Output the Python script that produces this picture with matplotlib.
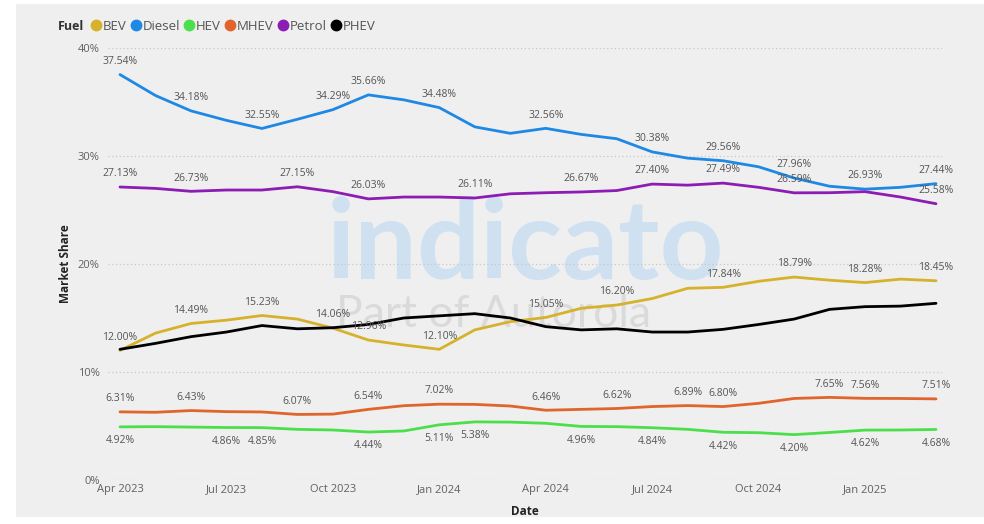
import matplotlib
matplotlib.use("Agg")
import matplotlib.pyplot as plt
from matplotlib.lines import Line2D
from matplotlib.patches import Rectangle

months = ["Apr 2023", "May 2023", "Jun 2023", "Jul 2023", "Aug 2023", "Sep 2023",
          "Oct 2023", "Nov 2023", "Dec 2023", "Jan 2024", "Feb 2024", "Mar 2024",
          "Apr 2024", "May 2024", "Jun 2024", "Jul 2024", "Aug 2024", "Sep 2024",
          "Oct 2024", "Nov 2024", "Dec 2024", "Jan 2025", "Feb 2025", "Mar 2025"]
tick_labels = ["Apr 2023", "Jul 2023", "Oct 2023", "Jan 2024",
               "Apr 2024", "Jul 2024", "Oct 2024", "Jan 2025"]

bev = [12.00, 13.6, 14.49, 14.8, 15.23, 14.9, 14.06, 12.96, 12.5, 12.10, 13.9, 14.66,
       15.05, 15.9, 16.20, 16.8, 17.75, 17.84, 18.4, 18.79, 18.5, 18.28, 18.6, 18.45]
diesel = [37.54, 35.6, 34.18, 33.3, 32.55, 33.4, 34.29, 35.66, 35.2, 34.48, 32.7, 32.1,
          32.56, 32.0, 31.6, 30.38, 29.8, 29.56, 29.0, 27.96, 27.2, 26.93, 27.1, 27.44]
hev = [4.92, 4.94, 4.90, 4.86, 4.85, 4.69, 4.63, 4.44, 4.54, 5.11, 5.38, 5.36,
       5.25, 4.96, 4.94, 4.84, 4.69, 4.42, 4.38, 4.20, 4.40, 4.62, 4.63, 4.68]
mhev = [6.31, 6.27, 6.43, 6.33, 6.30, 6.07, 6.10, 6.54, 6.88, 7.02, 7.00, 6.85,
        6.46, 6.54, 6.62, 6.80, 6.89, 6.80, 7.10, 7.55, 7.65, 7.56, 7.55, 7.51]
petrol = [27.13, 27.0, 26.73, 26.85, 26.85, 27.15, 26.7, 26.03, 26.2, 26.2, 26.11, 26.5,
          26.6, 26.67, 26.8, 27.40, 27.3, 27.49, 27.1, 26.59, 26.6, 26.7, 26.2, 25.58]
phev = [12.1, 12.65, 13.27, 13.7, 14.3, 14.0, 14.1, 14.4, 15.0, 15.2, 15.4, 15.0,
        14.2, 13.9, 14.0, 13.7, 13.7, 13.95, 14.4, 14.9, 15.8, 16.05, 16.1, 16.36]

# indices of points carrying data labels
bev_lab = [0, 2, 4, 6, 7, 9, 12, 14, 17, 19, 21, 23]
diesel_lab = [0, 2, 4, 6, 7, 9, 12, 15, 17, 19, 21, 23]
hev_lab = [0, 3, 4, 7, 9, 10, 13, 15, 17, 19, 21, 23]
mhev_lab = [0, 2, 5, 7, 9, 12, 14, 16, 17, 20, 21, 23]
petrol_lab = [0, 2, 5, 7, 10, 13, 15, 17, 19, 23]

series = [("BEV", bev, "#d6b22c", bev_lab, "above"),
          ("Diesel", diesel, "#1e88e5", diesel_lab, "above"),
          ("HEV", hev, "#4be04b", hev_lab, "below"),
          ("MHEV", mhev, "#e0642c", mhev_lab, "above"),
          ("Petrol", petrol, "#8c1cb4", petrol_lab, "above"),
          ("PHEV", phev, "#000000", [], "above")]

FONT = "Open Sans"
W, H = 984, 524
fig = plt.figure(figsize=(W / 100, H / 100), dpi=100)
fig.patch.set_facecolor("white")
fig.patches.append(Rectangle((16 / W, 1 - 517 / H), 1 - 16 / W, (517 - 4) / H,
                             transform=fig.transFigure, facecolor="#efefef",
                             edgecolor="none", zorder=-10))

ax = fig.add_axes([108 / W, 1 - 480 / H, (942 - 108) / W, (480 - 48) / H])
ax.set_facecolor("none")
x = list(range(len(months)))
px = (936 - 120) / 23
ax.set_xlim(-12 / px, 23 + 6 / px)
ax.set_ylim(0, 40)

# watermark
ax.text(0.50, 0.54, "indicato", transform=ax.transAxes, fontsize=80,
        fontfamily="Lato", fontweight="bold", color="#cfe0f1", ha="center",
        va="center", zorder=0)
ax.text(0.462, 0.382, "Part of Autorola", transform=ax.transAxes, fontsize=32,
        fontfamily="Lato", color="#dadada", ha="center", va="center", zorder=0)

for name, vals, col, labs, pos in series:
    ax.plot(x, vals, color=col, lw=2.0, solid_capstyle="round", zorder=3)
    for i in labs:
        dy = 9.5 if pos == "above" else -10
        ax.annotate(f"{vals[i]:.2f}%", (x[i], vals[i]), xytext=(0, dy),
                    textcoords="offset points", ha="center", va="center",
                    fontsize=7.5, fontfamily=FONT, color="#555555", zorder=5)

ax.set_yticks([0, 10, 20, 30, 40])
ax.set_yticklabels(["0%", "10%", "20%", "30%", "40%"])
ax.set_xticks([0, 3, 6, 9, 12, 15, 18, 21])
ax.set_xticklabels(tick_labels)
ax.tick_params(length=0, labelsize=8, labelcolor="#606060", pad=3)
ax.tick_params(axis="y", pad=6)
for lab in ax.get_xticklabels() + ax.get_yticklabels():
    lab.set_fontfamily(FONT)
ax.grid(axis="y", color="#c8c8c8", linestyle=(0, (1, 2)), lw=0.9)
ax.set_axisbelow(True)
for s in ax.spines.values():
    s.set_visible(False)

ax.set_xlabel("Date", fontsize=8.5, fontfamily=FONT, fontweight="bold",
              color="#222222", labelpad=7)
ax.set_ylabel("Market Share", fontsize=8.5, fontfamily=FONT, fontweight="bold",
              color="#222222", labelpad=4)

fig.text(58 / W, 1 - 26 / H, "Fuel", fontsize=9, fontfamily=FONT,
         fontweight="bold", color="#333333", va="center", ha="left")
handles = [Line2D([], [], marker="o", linestyle="none", markersize=7.5,
                  markerfacecolor=c, markeredgecolor=c) for _, _, c, _, _ in series]
leg = fig.legend(handles, [s[0] for s in series], loc="center left",
                 bbox_to_anchor=(88 / W, 1 - 26 / H), ncol=6, frameon=False,
                 handletextpad=-0.1, columnspacing=0.12, handlelength=1.2,
                 borderaxespad=0, borderpad=0,
                 prop={"family": FONT, "size": 9.5})
for t in leg.get_texts():
    t.set_color("#555555")

fig.savefig("out.png", dpi=100, facecolor=fig.get_facecolor())
